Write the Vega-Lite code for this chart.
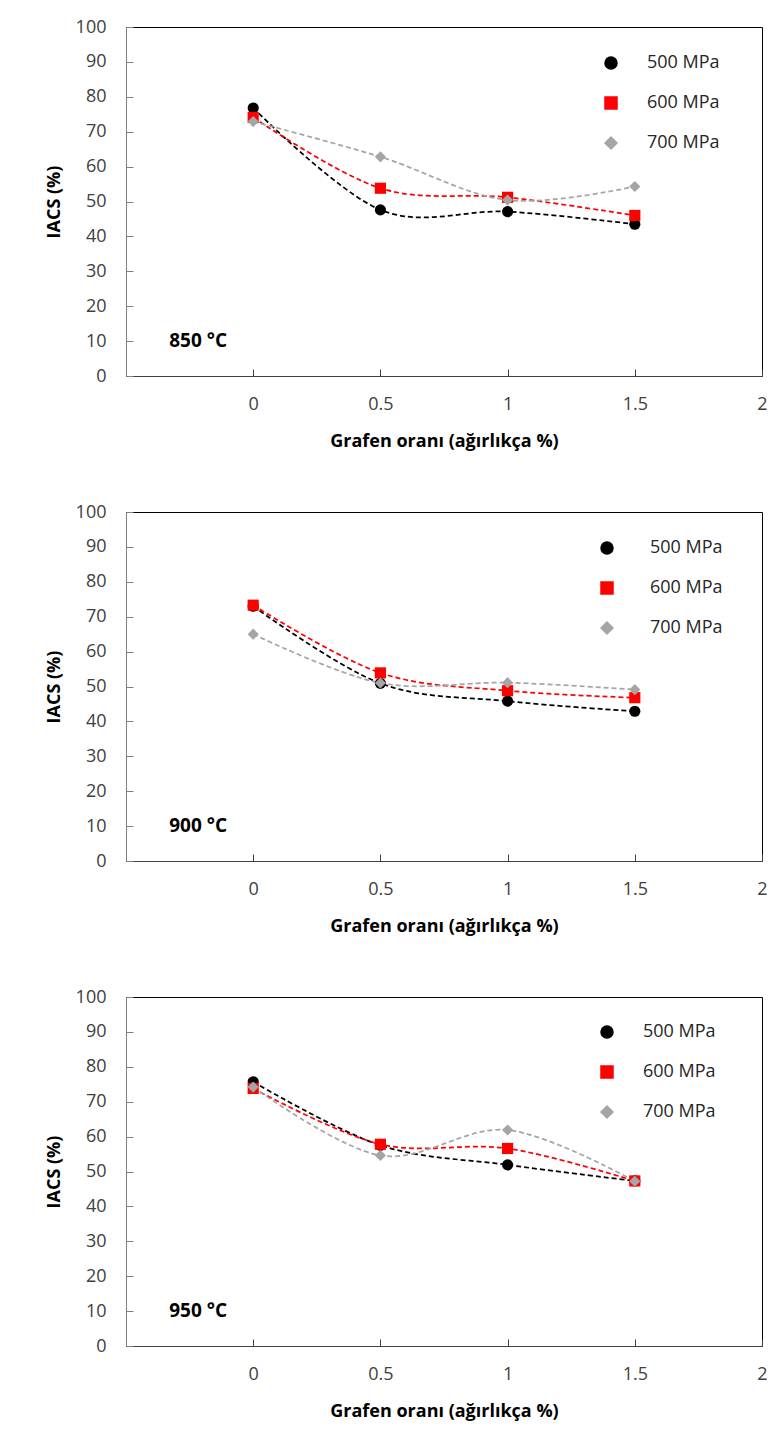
{
  "$schema": "https://vega.github.io/schema/vega-lite/v6.json",
  "background": "white",
  "padding": {"left": 44, "top": 17, "right": 5, "bottom": 5},
  "datasets": {
    "iacs": [
      {"temp": "850", "p": "500 MPa", "g": 0, "iacs": 76.8},
      {"temp": "850", "p": "500 MPa", "g": 0.5, "iacs": 47.6},
      {"temp": "850", "p": "500 MPa", "g": 1, "iacs": 47.1},
      {"temp": "850", "p": "500 MPa", "g": 1.5, "iacs": 43.5},
      {"temp": "850", "p": "600 MPa", "g": 0, "iacs": 74.1},
      {"temp": "850", "p": "600 MPa", "g": 0.5, "iacs": 53.8},
      {"temp": "850", "p": "600 MPa", "g": 1, "iacs": 51.2},
      {"temp": "850", "p": "600 MPa", "g": 1.5, "iacs": 46.0},
      {"temp": "850", "p": "700 MPa", "g": 0, "iacs": 72.9},
      {"temp": "850", "p": "700 MPa", "g": 0.5, "iacs": 62.8},
      {"temp": "850", "p": "700 MPa", "g": 1, "iacs": 50.4},
      {"temp": "850", "p": "700 MPa", "g": 1.5, "iacs": 54.3},
      {"temp": "900", "p": "500 MPa", "g": 0, "iacs": 73.0},
      {"temp": "900", "p": "500 MPa", "g": 0.5, "iacs": 50.9},
      {"temp": "900", "p": "500 MPa", "g": 1, "iacs": 45.8},
      {"temp": "900", "p": "500 MPa", "g": 1.5, "iacs": 42.9},
      {"temp": "900", "p": "600 MPa", "g": 0, "iacs": 73.3},
      {"temp": "900", "p": "600 MPa", "g": 0.5, "iacs": 53.9},
      {"temp": "900", "p": "600 MPa", "g": 1, "iacs": 48.8},
      {"temp": "900", "p": "600 MPa", "g": 1.5, "iacs": 46.8},
      {"temp": "900", "p": "700 MPa", "g": 0, "iacs": 65.0},
      {"temp": "900", "p": "700 MPa", "g": 0.5, "iacs": 51.0},
      {"temp": "900", "p": "700 MPa", "g": 1, "iacs": 51.1},
      {"temp": "900", "p": "700 MPa", "g": 1.5, "iacs": 49.1},
      {"temp": "950", "p": "500 MPa", "g": 0, "iacs": 75.7},
      {"temp": "950", "p": "500 MPa", "g": 0.5, "iacs": 57.5},
      {"temp": "950", "p": "500 MPa", "g": 1, "iacs": 51.9},
      {"temp": "950", "p": "500 MPa", "g": 1.5, "iacs": 47.3},
      {"temp": "950", "p": "600 MPa", "g": 0, "iacs": 73.8},
      {"temp": "950", "p": "600 MPa", "g": 0.5, "iacs": 57.8},
      {"temp": "950", "p": "600 MPa", "g": 1, "iacs": 56.6},
      {"temp": "950", "p": "600 MPa", "g": 1.5, "iacs": 47.3},
      {"temp": "950", "p": "700 MPa", "g": 0, "iacs": 74.2},
      {"temp": "950", "p": "700 MPa", "g": 0.5, "iacs": 54.6},
      {"temp": "950", "p": "700 MPa", "g": 1, "iacs": 61.9},
      {"temp": "950", "p": "700 MPa", "g": 1.5, "iacs": 47.2}
    ],
    "labels": [
      {"temp": "850", "label": "850 °C"},
      {"temp": "900", "label": "900 °C"},
      {"temp": "950", "label": "950 °C"}
    ]
  },
  "config": {
    "font": "Open Sans",
    "view": {"stroke": "black", "strokeWidth": 1},
    "axis": {
      "grid": false,
      "labelFont": "Open Sans",
      "labelFontSize": 18,
      "labelColor": "#404040",
      "titleFont": "Open Sans",
      "titleFontWeight": "bold",
      "titleFontSize": 18,
      "titleColor": "black",
      "tickSize": -7,
      "labelOverlap": false
    },
    "legend": {"labelFont": "Open Sans", "labelFontSize": 18, "labelColor": "#262626"},
    "concat": {"spacing": 51}
  },
  "resolve": {
    "scale": {"color": "independent", "shape": "independent"},
    "legend": {"color": "independent", "shape": "independent"}
  },
  "vconcat": [
    {
      "width": 636, "height": 349,
      "layer": [
        {
          "data": {"name": "iacs"},
          "transform": [{"filter": "datum.temp == '850'"}],
          "mark": {"type": "line", "interpolate": "cardinal", "strokeDash": [5, 3], "strokeWidth": 1.75},
          "encoding": {
            "x": {"field": "g", "type": "quantitative", "title": "Grafen oranı (ağırlıkça %)",
              "scale": {"domain": [-0.5, 2], "nice": false, "zero": false},
              "axis": {"values": [0, 0.5, 1, 1.5, 2], "format": "~g", "labelFlush": false, "labelPadding": 26, "titlePadding": 19, "domainColor": "#404040", "tickColor": "#404040"}},
            "y": {"field": "iacs", "type": "quantitative", "title": "IACS (%)",
              "scale": {"domain": [0, 100], "nice": false},
              "axis": {"values": [0, 10, 20, 30, 40, 50, 60, 70, 80, 90, 100], "tickCount": 11, "labelOverlap": false, "labelPadding": 27, "titlePadding": 12, "domainColor": "#808080", "tickColor": "#808080"}},
            "color": {"field": "p", "type": "nominal",
              "scale": {"domain": ["500 MPa", "600 MPa", "700 MPa"], "range": ["#000000", "#FF0000", "#A5A5A5"]}}
          }
        },
        {
          "data": {"name": "iacs"},
          "transform": [{"filter": "datum.temp == '850'"}],
          "mark": {"type": "point", "filled": true, "opacity": 1, "size": 125},
          "encoding": {
            "x": {"field": "g", "type": "quantitative", "title": "Grafen oranı (ağırlıkça %)"},
            "y": {"field": "iacs", "type": "quantitative", "title": "IACS (%)"},
            "color": {"field": "p", "type": "nominal",
              "scale": {"domain": ["500 MPa", "600 MPa", "700 MPa"], "range": ["#000000", "#FF0000", "#A5A5A5"]},
              "legend": {"title": null, "orient": "none", "legendX": 476, "legendY": 27, "symbolSize": 144, "rowPadding": 22, "labelOffset": 27,
                "encode": {"symbols": {
                  "fill": {"condition": [{"test": "datum.label === '500 MPa'", "value": "#000000"}, {"test": "datum.label === '600 MPa'", "value": "#FF0000"}], "value": "#A5A5A5"},
                  "stroke": {"condition": [{"test": "datum.label === '500 MPa'", "value": "#000000"}, {"test": "datum.label === '600 MPa'", "value": "#FF0000"}], "value": "#A5A5A5"},
                  "strokeWidth": {"value": 1},
                  "opacity": {"value": 1}
                }}}},
            "shape": {"field": "p", "type": "nominal",
              "scale": {"domain": ["500 MPa", "600 MPa", "700 MPa"], "range": ["circle", "square", "diamond"]}}
          }
        },
        {
          "data": {"name": "labels"},
          "transform": [{"filter": "datum.temp == '850'"}],
          "mark": {"type": "text", "align": "left", "baseline": "middle", "fontSize": 19, "fontWeight": "bold", "font": "Open Sans", "fill": "black"},
          "encoding": {
            "x": {"datum": -0.33, "type": "quantitative", "title": "Grafen oranı (ağırlıkça %)"},
            "y": {"datum": 10, "type": "quantitative", "title": "IACS (%)"},
            "text": {"field": "label", "type": "nominal"}
          }
        }
      ]
    },
    {
      "width": 636, "height": 349,
      "layer": [
        {
          "data": {"name": "iacs"},
          "transform": [{"filter": "datum.temp == '900'"}],
          "mark": {"type": "line", "interpolate": "cardinal", "strokeDash": [5, 3], "strokeWidth": 1.75},
          "encoding": {
            "x": {"field": "g", "type": "quantitative", "title": "Grafen oranı (ağırlıkça %)",
              "scale": {"domain": [-0.5, 2], "nice": false, "zero": false},
              "axis": {"values": [0, 0.5, 1, 1.5, 2], "format": "~g", "labelFlush": false, "labelPadding": 26, "titlePadding": 19, "domainColor": "#404040", "tickColor": "#404040"}},
            "y": {"field": "iacs", "type": "quantitative", "title": "IACS (%)",
              "scale": {"domain": [0, 100], "nice": false},
              "axis": {"values": [0, 10, 20, 30, 40, 50, 60, 70, 80, 90, 100], "tickCount": 11, "labelOverlap": false, "labelPadding": 27, "titlePadding": 12, "domainColor": "#808080", "tickColor": "#808080"}},
            "color": {"field": "p", "type": "nominal",
              "scale": {"domain": ["500 MPa", "600 MPa", "700 MPa"], "range": ["#000000", "#FF0000", "#A5A5A5"]}}
          }
        },
        {
          "data": {"name": "iacs"},
          "transform": [{"filter": "datum.temp == '900'"}],
          "mark": {"type": "point", "filled": true, "opacity": 1, "size": 125},
          "encoding": {
            "x": {"field": "g", "type": "quantitative", "title": "Grafen oranı (ağırlıkça %)"},
            "y": {"field": "iacs", "type": "quantitative", "title": "IACS (%)"},
            "color": {"field": "p", "type": "nominal",
              "scale": {"domain": ["500 MPa", "600 MPa", "700 MPa"], "range": ["#000000", "#FF0000", "#A5A5A5"]},
              "legend": {"title": null, "orient": "none", "legendX": 472, "legendY": 27, "symbolSize": 144, "rowPadding": 22, "labelOffset": 34,
                "encode": {"symbols": {
                  "fill": {"condition": [{"test": "datum.label === '500 MPa'", "value": "#000000"}, {"test": "datum.label === '600 MPa'", "value": "#FF0000"}], "value": "#A5A5A5"},
                  "stroke": {"condition": [{"test": "datum.label === '500 MPa'", "value": "#000000"}, {"test": "datum.label === '600 MPa'", "value": "#FF0000"}], "value": "#A5A5A5"},
                  "strokeWidth": {"value": 1},
                  "opacity": {"value": 1}
                }}}},
            "shape": {"field": "p", "type": "nominal",
              "scale": {"domain": ["500 MPa", "600 MPa", "700 MPa"], "range": ["circle", "square", "diamond"]}}
          }
        },
        {
          "data": {"name": "labels"},
          "transform": [{"filter": "datum.temp == '900'"}],
          "mark": {"type": "text", "align": "left", "baseline": "middle", "fontSize": 19, "fontWeight": "bold", "font": "Open Sans", "fill": "black"},
          "encoding": {
            "x": {"datum": -0.33, "type": "quantitative", "title": "Grafen oranı (ağırlıkça %)"},
            "y": {"datum": 10, "type": "quantitative", "title": "IACS (%)"},
            "text": {"field": "label", "type": "nominal"}
          }
        }
      ]
    },
    {
      "width": 636, "height": 349,
      "layer": [
        {
          "data": {"name": "iacs"},
          "transform": [{"filter": "datum.temp == '950'"}],
          "mark": {"type": "line", "interpolate": "cardinal", "strokeDash": [5, 3], "strokeWidth": 1.75},
          "encoding": {
            "x": {"field": "g", "type": "quantitative", "title": "Grafen oranı (ağırlıkça %)",
              "scale": {"domain": [-0.5, 2], "nice": false, "zero": false},
              "axis": {"values": [0, 0.5, 1, 1.5, 2], "format": "~g", "labelFlush": false, "labelPadding": 26, "titlePadding": 19, "domainColor": "#404040", "tickColor": "#404040"}},
            "y": {"field": "iacs", "type": "quantitative", "title": "IACS (%)",
              "scale": {"domain": [0, 100], "nice": false},
              "axis": {"values": [0, 10, 20, 30, 40, 50, 60, 70, 80, 90, 100], "tickCount": 11, "labelOverlap": false, "labelPadding": 27, "titlePadding": 12, "domainColor": "#808080", "tickColor": "#808080"}},
            "color": {"field": "p", "type": "nominal",
              "scale": {"domain": ["500 MPa", "600 MPa", "700 MPa"], "range": ["#000000", "#FF0000", "#A5A5A5"]}}
          }
        },
        {
          "data": {"name": "iacs"},
          "transform": [{"filter": "datum.temp == '950'"}],
          "mark": {"type": "point", "filled": true, "opacity": 1, "size": 125},
          "encoding": {
            "x": {"field": "g", "type": "quantitative", "title": "Grafen oranı (ağırlıkça %)"},
            "y": {"field": "iacs", "type": "quantitative", "title": "IACS (%)"},
            "color": {"field": "p", "type": "nominal",
              "scale": {"domain": ["500 MPa", "600 MPa", "700 MPa"], "range": ["#000000", "#FF0000", "#A5A5A5"]},
              "legend": {"title": null, "orient": "none", "legendX": 472, "legendY": 26, "symbolSize": 144, "rowPadding": 22, "labelOffset": 27,
                "encode": {"symbols": {
                  "fill": {"condition": [{"test": "datum.label === '500 MPa'", "value": "#000000"}, {"test": "datum.label === '600 MPa'", "value": "#FF0000"}], "value": "#A5A5A5"},
                  "stroke": {"condition": [{"test": "datum.label === '500 MPa'", "value": "#000000"}, {"test": "datum.label === '600 MPa'", "value": "#FF0000"}], "value": "#A5A5A5"},
                  "strokeWidth": {"value": 1},
                  "opacity": {"value": 1}
                }}}},
            "shape": {"field": "p", "type": "nominal",
              "scale": {"domain": ["500 MPa", "600 MPa", "700 MPa"], "range": ["circle", "square", "diamond"]}}
          }
        },
        {
          "data": {"name": "labels"},
          "transform": [{"filter": "datum.temp == '950'"}],
          "mark": {"type": "text", "align": "left", "baseline": "middle", "fontSize": 19, "fontWeight": "bold", "font": "Open Sans", "fill": "black"},
          "encoding": {
            "x": {"datum": -0.33, "type": "quantitative", "title": "Grafen oranı (ağırlıkça %)"},
            "y": {"datum": 10, "type": "quantitative", "title": "IACS (%)"},
            "text": {"field": "label", "type": "nominal"}
          }
        }
      ]
    }
  ]
}
